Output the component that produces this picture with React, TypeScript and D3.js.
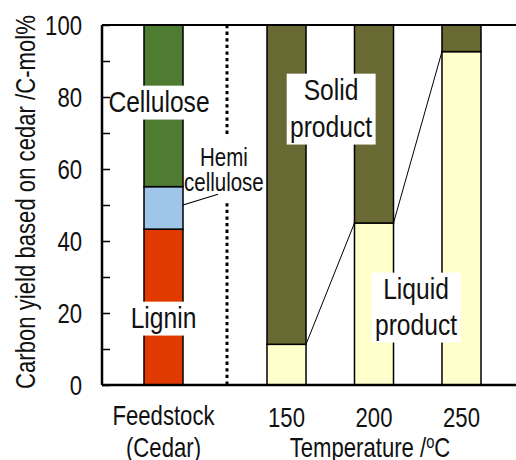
import React, { useEffect, useRef } from 'react';
import * as d3 from 'd3';

// Feedstock composition (C-mol%)
const feedstockParts = ['Lignin', 'Hemicellulose', 'Cellulose'];
const feedstockValues = [43.3, 11.8, 44.9];
const feedstockColors = ['#e03a00', '#9fc5e8', '#4e7d31'];

// Product distribution vs. temperature
const temperatures = ['150', '200', '250'];
const liquidYield = [11.3, 45.0, 92.6];
const solidYield = [88.7, 55.0, 7.4];

const yTicks = [0, 20, 40, 60, 80, 100];
const yMinorTicks = [10, 30, 50, 70, 90];

// no narrow font installed -> squeeze Liberation Sans horizontally
const FONT = '"Liberation Sans", Arial, sans-serif';
const SX = 0.82;

type Sel = d3.Selection<SVGGElement, unknown, null, undefined>;

const CedarChart: React.FC<{ width?: number; height?: number }> = ({ width = 516, height = 460 }) => {
    const svgRef = useRef<SVGSVGElement>(null);

    useEffect(() => {
        if (!svgRef.current) return;
        const svg = d3.select(svgRef.current);
        svg.selectAll('*').remove();

        const margin = { top: 25, right: 0, bottom: 75, left: 102 };
        const innerWidth = width - margin.left - margin.right;
        const innerHeight = height - margin.top - margin.bottom;

        const y = d3.scaleLinear().domain([0, 100]).range([innerHeight, 0]);
        const xFeed = d3.scaleBand().domain(['Feedstock']).range([42, 81]);
        const xTemp = d3.scaleBand().domain(temperatures).range([165, 379]).paddingInner(0.554);

        const g = svg.append('g').attr('transform', `translate(${margin.left},${margin.top})`) as unknown as Sel;

        // squeezed text group, anchored at (x, y)
        const ntext = (parent: Sel, x: number, yy: number, size: number, anchor = 'middle') =>
            parent.append('g')
                .attr('transform', `translate(${x},${yy}) scale(${SX},1)`)
                .append('text')
                .style('font-family', FONT).style('font-size', `${size}px`)
                .attr('text-anchor', anchor).attr('fill', '#111');

        // Feedstock stacked bar
        let base = 0;
        feedstockValues.forEach((v, i) => {
            g.append('rect')
                .attr('x', xFeed('Feedstock')!)
                .attr('y', y(base + v))
                .attr('width', xFeed.bandwidth())
                .attr('height', y(base) - y(base + v))
                .attr('fill', feedstockColors[i])
                .attr('stroke', '#000')
                .attr('stroke-width', 1.5)
                .attr('data-part', feedstockParts[i]);
            base += v;
        });

        // Temperature stacked bars
        temperatures.forEach((t, i) => {
            const x0 = xTemp(t)!;
            g.append('rect')
                .attr('x', x0).attr('y', y(liquidYield[i]))
                .attr('width', xTemp.bandwidth())
                .attr('height', y(0) - y(liquidYield[i]))
                .attr('fill', '#ffffcc').attr('stroke', '#000').attr('stroke-width', 1.5);
            g.append('rect')
                .attr('x', x0).attr('y', y(liquidYield[i] + solidYield[i]))
                .attr('width', xTemp.bandwidth())
                .attr('height', y(liquidYield[i]) - y(liquidYield[i] + solidYield[i]))
                .attr('fill', '#696934').attr('stroke', '#000').attr('stroke-width', 1.5);
        });

        // connector lines between liquid tops
        for (let i = 0; i < temperatures.length - 1; i++) {
            g.append('line')
                .attr('x1', xTemp(temperatures[i])! + xTemp.bandwidth())
                .attr('y1', y(liquidYield[i]))
                .attr('x2', xTemp(temperatures[i + 1])!)
                .attr('y2', y(liquidYield[i + 1]))
                .attr('stroke', '#000').attr('stroke-width', 1);
        }

        // dotted separator
        g.append('line')
            .attr('x1', 125).attr('x2', 125)
            .attr('y1', 0).attr('y2', innerHeight)
            .attr('stroke', '#000').attr('stroke-width', 3)
            .attr('stroke-dasharray', '3.3,3.3');

        // labels with white boxes
        const boxedLabel = (lines: string[], cx: number, baselines: number[], size: number) => {
            const grp = g.append('g').attr('transform', `translate(${cx},0) scale(${SX},1)`);
            const bg = grp.append('rect').attr('fill', '#fff');
            const txt = grp.append('text')
                .style('font-family', FONT).style('font-size', `${size}px`)
                .attr('text-anchor', 'middle').attr('fill', '#111');
            lines.forEach((l, i) => {
                txt.append('tspan').attr('x', 0).attr('y', baselines[i]).text(l);
            });
            const bb = (txt.node() as SVGTextElement).getBBox();
            bg.attr('x', bb.x - 4).attr('y', bb.y + 1)
                .attr('width', bb.width + 8).attr('height', bb.height);
        };

        boxedLabel(['Cellulose'], 57, [87], 30);
        boxedLabel(['Lignin'], 61.5, [303], 30);
        boxedLabel(['Solid', 'product'], 229, [75, 112], 30);
        boxedLabel(['Liquid', 'product'], 314, [274, 310], 30);

        // Hemicellulose label with leader
        const hemi = g.append('g').attr('transform', `translate(82,0) scale(${SX},1)`);
        const hemiBg = hemi.append('rect').attr('fill', '#fff');
        const hemiText = hemi.append('text')
            .style('font-family', FONT).style('font-size', '25px').attr('fill', '#111');
        hemiText.append('tspan').attr('x', 40 / SX).attr('y', 141).attr('text-anchor', 'middle').text('Hemi');
        hemiText.append('tspan').attr('x', 0).attr('y', 166).attr('text-anchor', 'start').text('cellulose');
        const hb = (hemiText.node() as SVGTextElement).getBBox();
        hemiBg.attr('x', hb.x).attr('y', hb.y - 6).attr('width', hb.width + 2).attr('height', hb.height + 12);
        g.append('line')
            .attr('x1', 81).attr('y1', y(50))
            .attr('x2', 116).attr('y2', y(53))
            .attr('stroke', '#000').attr('stroke-width', 1.2);

        // frame lines
        g.append('line').attr('x1', 0).attr('x2', innerWidth).attr('y1', 0).attr('y2', 0)
            .attr('stroke', '#000').attr('stroke-width', 2);
        g.append('line').attr('x1', 0).attr('x2', innerWidth).attr('y1', innerHeight).attr('y2', innerHeight)
            .attr('stroke', '#000').attr('stroke-width', 2.5);

        // y axis (ticks inward, labels drawn squeezed)
        const yAxis = g.append('g')
            .call(d3.axisLeft(y).tickValues(yTicks).tickSizeInner(-8).tickSizeOuter(0).tickFormat(() => ''));
        yAxis.select('.domain').attr('stroke-width', 2.5).attr('d', `M0,${innerHeight}V0`);
        yAxis.selectAll('.tick line').attr('stroke-width', 1.5);
        g.append('g')
            .call(d3.axisLeft(y).tickValues(yMinorTicks).tickSizeInner(-8).tickSizeOuter(0).tickFormat(() => ''))
            .call(s => s.select('.domain').remove())
            .selectAll('.tick line').attr('stroke-width', 1.5);
        yTicks.forEach(t => {
            ntext(g, -20, y(t) + 10, 27, 'end').text(String(t));
        });

        // x labels
        const cxFeed = xFeed('Feedstock')! + xFeed.bandwidth() / 2;
        ntext(g, cxFeed, innerHeight + 40, 27).text('Feedstock');
        ntext(g, cxFeed, innerHeight + 72, 27).text('(Cedar)');
        temperatures.forEach(t => {
            ntext(g, xTemp(t)! + xTemp.bandwidth() / 2, innerHeight + 42, 27).text(t);
        });
        const tt = ntext(g, 268, innerHeight + 72, 27);
        tt.append('tspan').text('Temperature /');
        tt.append('tspan').attr('dy', -9).style('font-size', '18px').text('o');
        tt.append('tspan').attr('dy', 9).text('C');

        // y title
        g.append('g')
            .attr('transform', `translate(${-67},${innerHeight / 2 - 3}) rotate(-90) scale(${SX},1)`)
            .append('text')
            .attr('text-anchor', 'middle')
            .style('font-family', FONT).style('font-size', '27px').attr('fill', '#111')
            .text('Carbon yield based on cedar /C-mol%');
    }, [width, height]);

    return <svg ref={svgRef} width={width} height={height} style={{ display: 'block' }} />;
};

export default function App() {
    return (
        <div style={{ position: 'absolute', left: 0, top: 0, background: '#fff' }}>
            <CedarChart />
        </div>
    );
}
